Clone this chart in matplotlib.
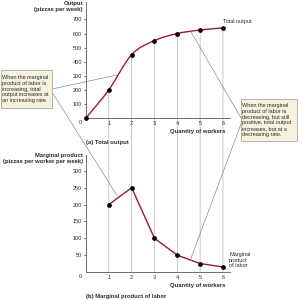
import matplotlib.pyplot as plt
from matplotlib.path import Path
from matplotlib.patches import PathPatch, Rectangle, ConnectionPatch
from matplotlib.lines import Line2D

plt.rcParams['font.family'] = ['Liberation Sans', 'DejaVu Sans']

workers = [0, 1, 2, 3, 4, 5, 6]
total_output = [0, 200, 450, 550, 600, 625, 640]
mp_workers = [1, 2, 3, 4, 5, 6]
marginal_product = [200, 250, 100, 50, 25, 15]

W, H = 299, 300
RED = '#9c1c2e'
GRID = '#b4b4b4'
LEAD = '#8c8c8c'
TXT = '#2a2a2a'

fig = plt.figure(figsize=(W / 100, H / 100), dpi=100)


def fx(px):
    return px / W


def fy(py):
    return 1 - py / H


def style(ax, ymax, yticks):
    ax.set_facecolor('none')
    ax.set_xlim(0, 6.3)
    ax.set_ylim(0, ymax)
    for s in ['top', 'right']:
        ax.spines[s].set_visible(False)
    for s in ['left', 'bottom']:
        ax.spines[s].set_color('#555555')
        ax.spines[s].set_linewidth(0.6)
    ax.set_yticks(yticks)
    ax.set_xticks(range(1, 7))
    ax.tick_params(axis='y', length=1.5, width=0.5, pad=1.5, labelsize=4, colors=TXT)
    ax.tick_params(axis='x', length=0, pad=2.5, labelsize=4, colors=TXT)


# (a) total output
ax1 = fig.add_axes([fx(86), fy(118), 143.8 / W, 116 / H])
style(ax1, 824, range(100, 800, 100))

# smooth curve through the points (Catmull-Rom as cubic Bezier)
pts = list(zip(workers, total_output))
verts = [pts[0]]
codes = [Path.MOVETO]
for i in range(len(pts) - 1):
    p0 = pts[max(i - 1, 0)]
    p1 = pts[i]
    p2 = pts[i + 1]
    p3 = pts[min(i + 2, len(pts) - 1)]
    c1 = (p1[0] + (p2[0] - p0[0]) / 6, p1[1] + (p2[1] - p0[1]) / 6)
    c2 = (p2[0] - (p3[0] - p1[0]) / 6, p2[1] - (p3[1] - p1[1]) / 6)
    verts += [c1, c2, p2]
    codes += [Path.CURVE4] * 3
ax1.add_patch(PathPatch(Path(verts, codes), fill=False, edgecolor=RED, lw=1.0, zorder=3))
ax1.plot(workers, total_output, 'o', color='black', ms=2.4, zorder=4, clip_on=False)

# (b) marginal product
ax2 = fig.add_axes([fx(86), fy(272), 143.8 / W, 117 / H])
style(ax2, 347, range(50, 350, 50))
ax2.plot(mp_workers, marginal_product, '-', color=RED, lw=1.0, zorder=3)
ax2.plot(mp_workers, marginal_product, 'o', color='black', ms=2.4, zorder=4, clip_on=False)

# vertical guide lines from total output points down to the lower axis
for x, y in zip(workers[1:], total_output[1:]):
    con = ConnectionPatch(xyA=(x, y), coordsA=ax1.transData,
                          xyB=(x, 0), coordsB=ax2.transData,
                          color=GRID, lw=0.5, zorder=-1)
    fig.add_artist(con)

# axis texts
fig.text(fx(80), fy(122.5), '0', fontsize=4, color=TXT, ha='center', va='center')
fig.text(fx(80), fy(277), '0', fontsize=4, color=TXT, ha='center', va='center')
fig.text(fx(83), fy(1.5), 'Output\n(pizzas per week)', fontsize=4.2, fontweight='bold',
         ha='right', va='top', linespacing=1.15, color=TXT)
fig.text(fx(83), fy(153.5), 'Marginal product\n(pizzas per worker per week)', fontsize=4.2,
         fontweight='bold', ha='right', va='top', linespacing=1.15, color=TXT)
fig.text(fx(225), fy(131.5), 'Quantity of workers', fontsize=4.2, fontweight='bold',
         ha='right', va='center', color=TXT)
fig.text(fx(225), fy(285.7), 'Quantity of workers', fontsize=4.2, fontweight='bold',
         ha='right', va='center', color=TXT)
fig.text(fx(86.5), fy(142.3), '(a) Total output', fontsize=4.2, fontweight='bold',
         ha='left', va='center', color=TXT)
fig.text(fx(86.5), fy(296.5), '(b) Marginal product of labor', fontsize=4.2, fontweight='bold',
         ha='left', va='center', color=TXT)
fig.text(fx(223), fy(21), 'Total output', fontsize=4, ha='left', va='center', color=TXT)
fig.text(fx(229), fy(252), 'Marginal\nproduct\nof labor', fontsize=4, ha='left', va='top',
         linespacing=1.15, color=TXT)

# leader lines
leaders = [((1.35, 305), ax1, (52, 89)),
           ((1.35, 228), ax2, (52, 92)),
           ((4.6, 612), ax1, (241, 118)),
           ((4.6, 41), ax2, (241, 124))]
for xy, ax, (px, py) in leaders:
    con = ConnectionPatch(xyA=xy, coordsA=ax.transData,
                          xyB=(fx(px), fy(py)), coordsB=fig.transFigure,
                          color=LEAD, lw=0.5, zorder=5)
    fig.add_artist(con)

# annotation boxes
for (x0, y0, x1, y1), txt in [
        ((1, 70, 52, 108), 'When the marginal\nproduct of labor is\nincreasing, total\n'
                            'output increases at\nan increasing rate.'),
        ((241, 99, 297, 141), 'When the marginal\nproduct of labor is\ndecreasing, but still\n'
                              'positive, total output\nincreases, but at a\ndecreasing rate.')]:
    fig.add_artist(Rectangle((fx(x0), fy(y1)), (x1 - x0) / W, (y1 - y0) / H,
                             transform=fig.transFigure, facecolor='#f6f2de',
                             edgecolor='#a8a8a0', lw=0.6, zorder=6))
    fig.text(fx(x0 + 1.5), fy((y0 + y1) / 2), txt, fontsize=4, ha='left', va='center',
             linespacing=1.2, color=TXT, zorder=7)

fig.savefig('out.png', dpi=100)
